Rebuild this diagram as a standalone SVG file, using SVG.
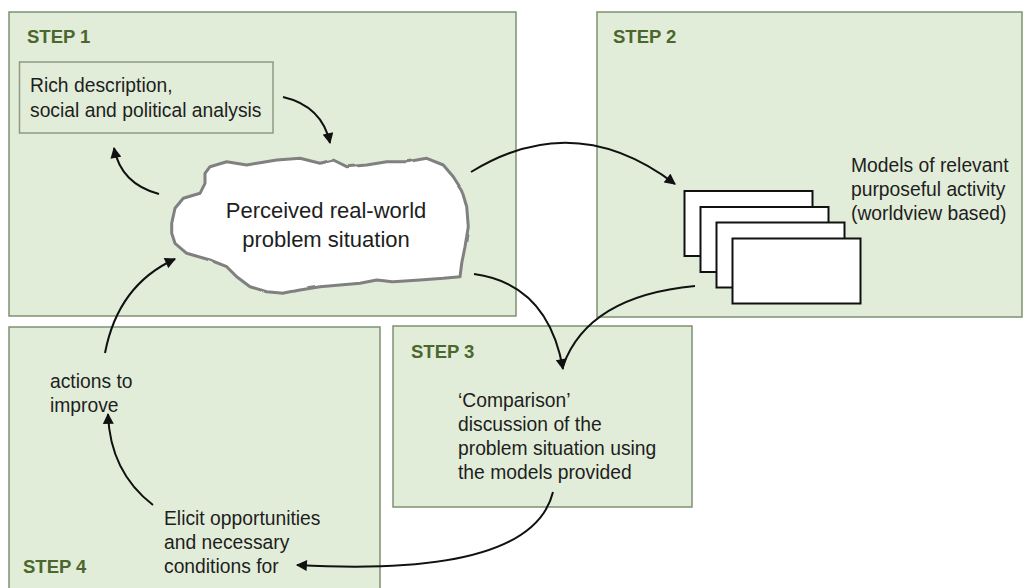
<svg xmlns="http://www.w3.org/2000/svg" width="1026" height="588" viewBox="0 0 1026 588">
  <style>
    .step { fill: #e2edd9; stroke: #7d9170; stroke-width: 1.5; }
    .label { font-family: "Liberation Sans", Arial, sans-serif; font-weight: bold; font-size: 18.5px; fill: #4b672d; }
    .body { font-family: "Liberation Sans", Arial, sans-serif; font-size: 19.3px; fill: #1e1e1e; }
    .big { font-family: "Liberation Sans", Arial, sans-serif; font-size: 22px; fill: #1e1e1e; }
    .card { fill: #ffffff; stroke: #111111; stroke-width: 2; }
    .flow { fill: none; stroke: #111111; stroke-width: 2; }
  </style>
  <defs>
    <marker id="head" viewBox="0 0 10 10" refX="9" refY="5" markerWidth="12" markerHeight="11" markerUnits="userSpaceOnUse" orient="auto">
      <path d="M0,0 L10,5 L0,10 z" fill="#111111"/>
    </marker>
    <filter id="rough" x="-5%" y="-10%" width="110%" height="120%">
      <feTurbulence type="fractalNoise" baseFrequency="0.05" numOctaves="1" seed="4" result="noise"/>
      <feDisplacementMap in="SourceGraphic" in2="noise" scale="2.5" xChannelSelector="R" yChannelSelector="G"/>
    </filter>
  </defs>

  <!-- step panels -->
  <g id="step1">
    <rect class="step" x="9" y="12" width="507" height="304"/>
    <text class="label" x="27" y="43">STEP 1</text>
  </g>
  <g id="step2">
    <rect class="step" x="597" y="12" width="425" height="305"/>
    <text class="label" x="613" y="43">STEP 2</text>
  </g>
  <g id="step3">
    <rect class="step" x="393" y="326" width="299" height="181"/>
    <text class="label" x="411" y="358">STEP 3</text>
    <text class="body" x="458" y="407">‘Comparison’</text>
    <text class="body" x="458" y="431">discussion of the</text>
    <text class="body" x="458" y="455">problem situation using</text>
    <text class="body" x="458" y="479">the models provided</text>
  </g>
  <g id="step4">
    <rect class="step" x="9" y="327" width="371" height="270"/>
    <text class="label" x="23" y="573">STEP 4</text>
    <text class="body" x="50" y="388">actions to</text>
    <text class="body" x="50" y="412">improve</text>
    <text class="body" x="164" y="525">Elicit opportunities</text>
    <text class="body" x="164" y="549">and necessary</text>
    <text class="body" x="164" y="573">conditions for</text>
  </g>

  <!-- analysis box inside step 1 -->
  <g id="analysis">
    <rect x="19.5" y="62" width="253.5" height="71" fill="#e2edd9" stroke="#8c9a82" stroke-width="1.5"/>
    <text class="body" x="30" y="92">Rich description,</text>
    <text class="body" x="30" y="117">social and political analysis</text>
  </g>

  <!-- problem situation cloud -->
  <g id="situation">
    <path filter="url(#rough)" fill="#ffffff" stroke="#808080" stroke-width="3" stroke-linejoin="round"
      d="M171.7,223.3 L175,208.3 L183.3,198.3 L200,193.3 L205,183.3 L205,173.3 L210,166.7 L226.7,161.7 L246.7,165 L260,162.7 L276.7,160 L300,158.3 L320,163.3 L333.3,160 L346.7,166.7 L366.7,165 L386.7,161.7 L406.7,161.7 L426.7,158.3 L443.3,165 L453.3,176.7 L461.7,190 L466.7,206.7 L468.3,226.7 L465,246.7 L461.7,263.3 L460,276.7 L443.3,278.3 L420,280 L393.3,281.7 L376.7,280 L360,283.3 L340,285 L320,286.7 L300,290 L283.3,293.3 L266.7,291.7 L250,286.7 L236.7,276.7 L226.7,266.7 L210,260 L186.7,253.3 L175,243.3 L171.7,233.3 Z"/>
    <text class="big" x="326" y="218" text-anchor="middle">Perceived real-world</text>
    <text class="big" x="326" y="247" text-anchor="middle">problem situation</text>
  </g>

  <!-- stack of activity models -->
  <g id="models">
    <rect class="card" x="684.5" y="191" width="128" height="65"/>
    <rect class="card" x="700.5" y="207" width="128" height="65"/>
    <rect class="card" x="716.5" y="222.5" width="128" height="65"/>
    <rect class="card" x="732.5" y="238.5" width="128" height="65"/>
    <text class="body" x="851" y="172">Models of relevant</text>
    <text class="body" x="851" y="196">purposeful activity</text>
    <text class="body" x="851" y="220">(worldview based)</text>
  </g>

  <!-- connectors -->
  <g id="connectors">
    <path class="flow" marker-end="url(#head)" d="M283,97 Q322,106 330,143"/>
    <path class="flow" marker-end="url(#head)" d="M159,194 Q121,184 114,148"/>
    <path class="flow" marker-end="url(#head)" d="M471,172 Q575,108 675,184"/>
    <path class="flow" marker-end="url(#head)" d="M474,274 Q548,284 563,369"/>
    <path class="flow" d="M695,286 Q588,296 563,366"/>
    <path class="flow" marker-end="url(#head)" d="M553,492 Q532,578 297,565"/>
    <path class="flow" marker-end="url(#head)" d="M153,505 Q110,472 108,414"/>
    <path class="flow" marker-end="url(#head)" d="M105,353 Q118,285 175,259"/>
  </g>
</svg>
